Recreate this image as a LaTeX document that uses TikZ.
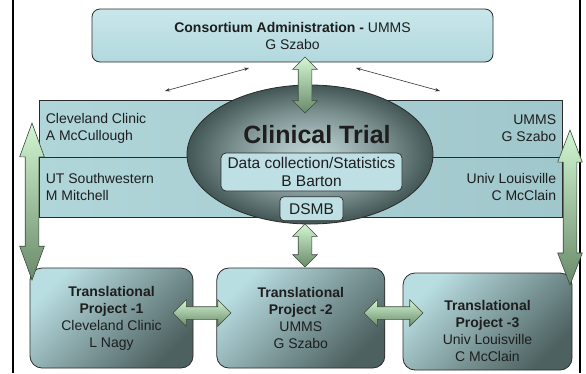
\documentclass[tikz,border=0pt]{standalone}
\usepackage{fontspec}
\setmainfont{Liberation Sans}
\usepackage{tikz}
\usetikzlibrary{arrows.meta}
\usetikzlibrary{positioning,shapes.geometric,shapes.arrows}
\usetikzlibrary{calc}

\definecolor{txtcol}{HTML}{1E1E1E}
\definecolor{boxline}{HTML}{2B2B2B}
\definecolor{adminlight}{HTML}{C8E7EB}
\definecolor{admindark}{HTML}{B2D8DD}
\definecolor{bandlight}{HTML}{B0D6DA}
\definecolor{banddark}{HTML}{A0C7CB}
\definecolor{trialin}{HTML}{BCD2D2}
\definecolor{trialout}{HTML}{435656}
\definecolor{infofill}{HTML}{BEE0E4}
\definecolor{projlight}{HTML}{B9DEE2}
\definecolor{projdark}{HTML}{4D6160}
\definecolor{arrlight}{HTML}{D2F6D2}
\definecolor{arrdark}{HTML}{6A8A6A}
\definecolor{arrline}{HTML}{3C4A3C}

\pgfdeclareradialshading{trialshade}{\pgfpoint{0bp}{0bp}}{%
  color(0bp)=(trialin); color(6bp)=(trialin!85!trialout);
  color(16bp)=(trialin!45!trialout); color(25bp)=(trialout); color(50bp)=(trialout)}

\begin{document}
\begin{tikzpicture}[x=1pt, y=-1pt,
    every node/.style={text=txtcol, font=\fontsize{14}{17}\selectfont},
    adminbox/.style={draw=boxline, line width=0.8pt, rounded corners=8pt,
        top color=adminlight, bottom color=admindark, align=center},
    bandbox/.style={draw=boxline, line width=0.7pt, left color=bandlight,
        right color=banddark, minimum width=523pt, inner sep=0pt},
    sidetxt/.style={inner sep=0pt},
    trialell/.style={ellipse, draw=boxline, line width=0.8pt, shade, shading=trialshade, inner sep=0pt},
    infobox/.style={draw=boxline, line width=0.7pt, rounded corners=5pt, fill=infofill,
        font=\fontsize{15.5}{17.5}\selectfont, align=center, inner sep=0pt},
    projbox/.style={draw=boxline, line width=0.8pt, rounded corners=12pt, top color=projlight,
        bottom color=projdark, shading angle=45, align=center, inner sep=0pt},
    fatarrow/.style={double arrow, draw=arrline, line width=0.6pt, top color=arrlight,
        bottom color=arrdark, inner xsep=0pt, inner ysep=6.5pt, minimum width=0pt,
        double arrow head extend=5.5pt},
    thinarrow/.style={{Stealth[length=5pt,width=3.5pt]}-{Stealth[length=5pt,width=3.5pt]},
        line width=0.6pt, draw=black!80}
]
    \useasboundingbox (0,0) rectangle (586,373);
    \draw[line width=2pt, black] (13,0) -- (13,373);
    \draw[line width=2pt, black] (580,0) -- (580,373);

    % administration
    \node[adminbox, minimum width=401pt, minimum height=53pt] (admin) at (292.5,35.5)
        {\textbf{Consortium Administration -} UMMS\\G Szabo};
    \coordinate (la1) at (249,68);
    \coordinate (la2) at (165,91);
    \coordinate (ra1) at (356,68);
    \coordinate (ra2) at (440,91);
    \draw[thinarrow] (la1) -- (la2);
    \draw[thinarrow] (ra1) -- (ra2);

    % sites
    \node[bandbox, minimum height=57pt] (bandtop) at (300.5,128.5) {};
    \node[bandbox, minimum height=60pt] (bandbot) at (300.5,187) {};
    \node[sidetxt, right=7pt of bandtop.west, align=left] (cleve) {Cleveland Clinic\\A McCullough};
    \node[sidetxt, right=7pt of bandbot.west, align=left] (utsw) {UT Southwestern\\M Mitchell};
    \node[sidetxt, left=6pt of bandtop.east, align=right] (umms) {UMMS\\G Szabo};
    \node[sidetxt, left=6pt of bandbot.east, align=right] (louis) {Univ Louisville\\C McClain};

    % clinical trial
    \node[trialell, minimum width=246pt, minimum height=139pt] (trial) at (310,154.5) {};
    \node[font=\bfseries\fontsize{25}{28}\selectfont, inner sep=0pt] (title) at (317,135) {Clinical Trial};
    \node[infobox, minimum width=181pt, minimum height=38pt] (data) at (311.5,172)
        {Data collection/Statistics\\B Barton};
    \node[infobox, minimum width=63pt, minimum height=24pt, rounded corners=4pt,
        below=5pt of data] (dsmb) {DSMB};

    % projects
    \node[projbox, minimum width=163pt, minimum height=100pt] (proj1) at (111.5,318)
        {\textbf{Translational}\\\textbf{Project -1}\\Cleveland Clinic\\L Nagy};
    \node[projbox, minimum width=168pt, minimum height=100pt, right=23pt of proj1] (proj2)
        {\textbf{Translational}\\\textbf{Project -2}\\UMMS\\G Szabo};
    \node[projbox, minimum width=169pt, minimum height=97pt] (proj3) at (487.5,321.5) {};
    \node[inner sep=0pt, align=center, yshift=-9.5pt] (proj3txt) at (proj3.center)
        {\textbf{Translational}\\\textbf{Project -3}\\Univ Louisville\\C McClain};

    % links
    \node[fatarrow, rotate=90, minimum height=56pt] (upArr) at (305,85) {};
    \node[fatarrow, rotate=90, minimum height=43pt] (downArr) at (305,245.5) {};
    \node[fatarrow, rotate=90, minimum height=157pt, double arrow tip angle=40] (leftArr) at (32,201.5) {};
    \node[fatarrow, rotate=90, minimum height=155pt, double arrow tip angle=42] (rightArr) at (570,207.5) {};
    \node[fatarrow, minimum height=58pt, inner ysep=6pt, double arrow head extend=7pt] (p12Arr) at (202,313) {};
    \node[fatarrow, minimum height=59pt, inner ysep=6pt, double arrow head extend=7pt] (p23Arr) at (393.5,313) {};
\end{tikzpicture}
\end{document}
